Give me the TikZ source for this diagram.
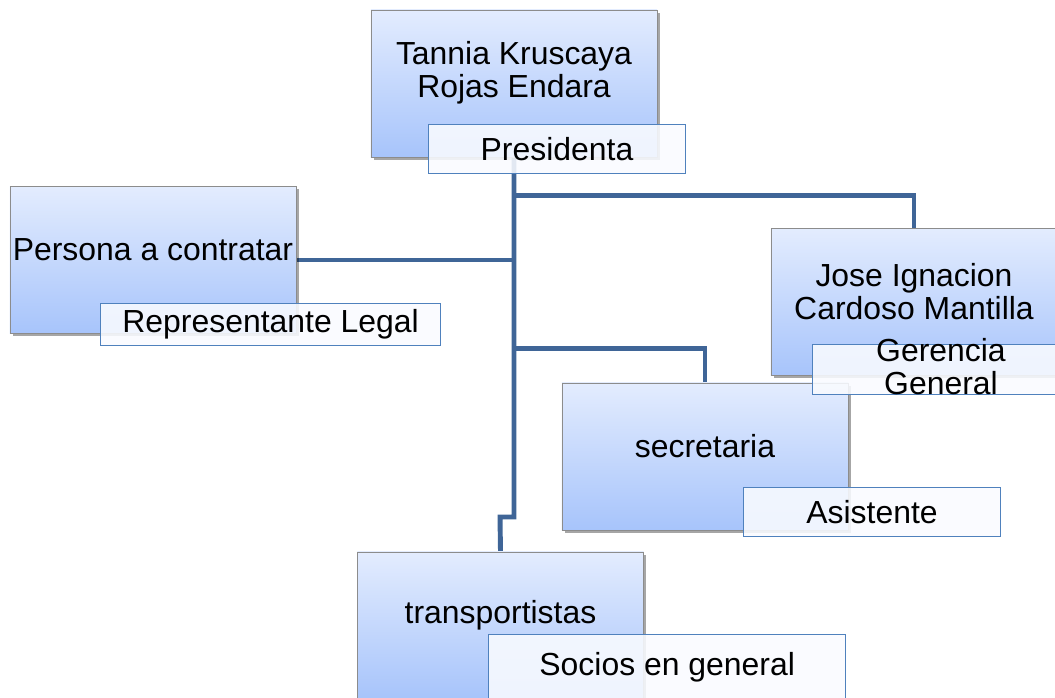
\documentclass[tikz,border=0pt]{standalone}
\usepackage{fontspec}
\setmainfont{Liberation Sans}
\usetikzlibrary{shadows,backgrounds}
\definecolor{linkblue}{RGB}{63,101,151}
\definecolor{boxtop}{RGB}{227,236,254}
\definecolor{boxbot}{RGB}{167,196,251}
\definecolor{tagline}{RGB}{79,129,189}
\definecolor{tagfill}{RGB}{249,251,255}
\tikzset{
  unit/.style={draw=gray!90, line width=0.6pt, top color=boxtop, bottom color=boxbot,
    minimum width=7.15cm, minimum height=3.675cm, inner sep=0pt,
    drop shadow={shadow xshift=2pt, shadow yshift=-2pt, opacity=0.35, fill=black},
    label={[yshift=0.26cm, align=center]center:#1}},
  tag/.style={draw=tagline, line width=0.8pt, fill=tagfill, fill opacity=0.88,
    text opacity=1, minimum height=1.22cm, inner sep=0pt, anchor=north west},
  link/.style={draw=linkblue, line width=3.5pt}
}
\begin{document}
\begin{tikzpicture}[x=0.025cm, y=-0.025cm, font=\fontsize{22.7}{23.5}\selectfont]
\useasboundingbox (0,0) rectangle (1055,698);
\node[unit={Tannia Kruscaya\\Rojas Endara}] (pres) at (514,83.5) {};
\node[unit={Persona a contratar}] (persona) at (153,260) {};
\node[unit={Jose Ignacion\\Cardoso Mantilla}] (jose) at (914,302) {};
\node[unit={secretaria}] (secre) at (705,456.5) {};
\node[unit={transportistas}] (transp) at (500.5,625.5) {};
\node[tag, minimum width=6.42cm] (presT) at (428,124) {Presidenta};
\node[tag, minimum width=8.5cm, minimum height=1.05cm] (personaT) at (100,303) {Representante Legal};
\node[tag, minimum width=6.42cm, minimum height=1.25cm] (joseT) at (812,344)
  {\raisebox{-0.45cm}{\smash{\begin{tabular}{@{}c@{}}Gerencia\\General\end{tabular}}}};
\node[tag, minimum width=6.42cm] (secreT) at (743,487) {Asistente};
\node[tag, minimum width=8.93cm, minimum height=1.65cm] (transpT) at (488,634) {Socios en general};
\begin{scope}[on background layer]
\coordinate (jog) at (500,517);
\draw[link] (pres.south) |- (jog) -- (transp.north);
\draw[link] (pres.south) ++(0,38) -| (jose.north);
\draw[link] (persona.east) -- (persona.east -| pres.south);
\draw[link] (pres.south) ++(0,191) -| (secre.north);
\end{scope}
\end{tikzpicture}
\end{document}
